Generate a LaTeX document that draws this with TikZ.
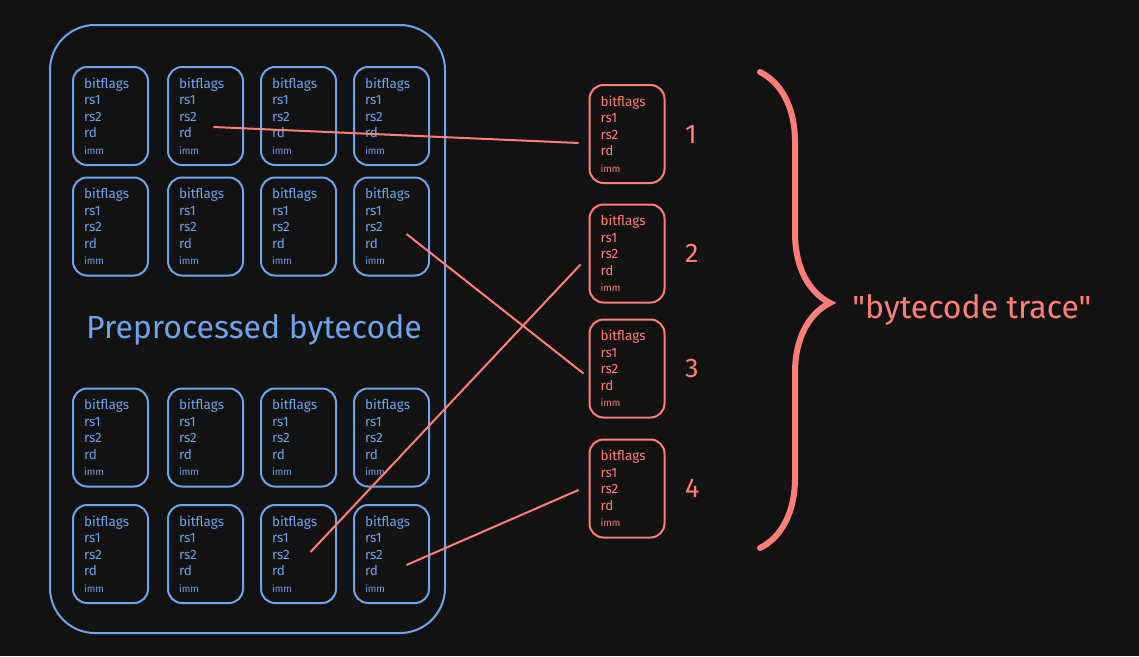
\documentclass[tikz,border=0pt]{standalone}
\usepackage{fontspec}
\setmainfont{Fira Sans}
\newfontfamily\quotefont[Ligatures=TeXOff]{Fira Sans}
\usetikzlibrary{positioning, decorations.pathreplacing}
\definecolor{pbblue}{HTML}{6FA3EA}
\definecolor{pbred}{HTML}{FF7F78}
\definecolor{pbbg}{HTML}{121212}
\newcommand{\regfields}{bitflags\\rs1\\rs2\\rd\\{\fontsize{10}{16.5}\selectfont imm}}

\begin{document}
\begin{tikzpicture}[
  x=1pt, y=-1pt,
  every node/.style={font=\fontsize{13.5}{16.5}\selectfont},
  blk/.style={rectangle, draw=pbblue, line width=2pt, rounded corners=14pt, minimum width=75pt, minimum height=98pt, inner sep=0pt, align=left, text width=53pt, text=pbblue},
  tracebox/.style={blk, draw=pbred, text=pbred},
  link/.style={draw=pbred, line width=2pt},
  bignum/.style={font=\fontsize{27}{27}\selectfont, text=pbred},
]
\fill[pbbg] (0,0) rectangle (1139,656);

% Preprocessed bytecode
\node[draw=pbblue, line width=2pt, rounded corners=45pt, minimum width=395pt, minimum height=608pt] (core) at (247.5,329) {};
\node[font=\fontsize{32}{32}\selectfont, text=pbblue] (title) at (254,330) {Preprocessed bytecode};
\foreach \row/\y in {1/116, 2/226.5, 3/437.5, 4/554}
  \foreach \col/\x in {1/110.5, 2/205.5, 3/298.5, 4/391.5}
    \node[blk] (b-\row-\col) at (\x,\y) {\regfields};

% Trace
\node[tracebox] (t1) at (627,134) {\regfields};
\node[tracebox] (t2) at (627,253.5) {\regfields};
\node[tracebox] (t3) at (627,368.5) {\regfields};
\node[tracebox] (t4) at (627,488.5) {\regfields};
\node[bignum, right=16pt of t1] (n1) {1};
\node[bignum, right=16pt of t2] (n2) {2};
\node[bignum, right=16pt of t3] (n3) {3};
\node[bignum, right=16pt of t4] (n4) {4};

% Links
\draw[link] ([xshift=8pt, yshift=-11pt]b-1-2.center) -- ([xshift=-10pt, yshift=-9pt]t1.west);
\draw[link] ([xshift=15pt, yshift=-7.5pt]b-2-4.center) -- ([xshift=-5pt, yshift=-5pt]t3.west);
\draw[link] ([xshift=12pt, yshift=2pt]b-4-3.center) -- ([xshift=-8pt, yshift=-11pt]t2.west);
\draw[link] ([xshift=15pt, yshift=-11pt]b-4-4.center) -- ([xshift=-10pt, yshift=-1.5pt]t4.west);

% Brace
\draw[decorate, decoration={brace, amplitude=70pt, aspect=0.485}, pbred, line width=6pt, line cap=round] (760,72) -- (760,548) node[midway, right=86pt, anchor=west, font=\quotefont\fontsize{32}{32}\selectfont, text=pbred] (lbl) {"bytecode trace"};
\end{tikzpicture}
\end{document}
